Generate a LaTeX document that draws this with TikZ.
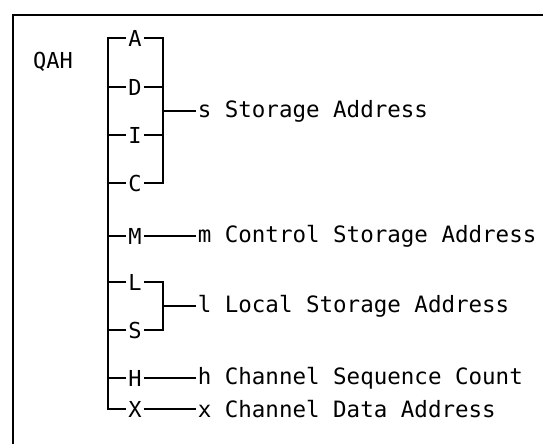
\documentclass[tikz,border=0pt]{standalone}
\usepackage{fontspec}
\setmonofont{DejaVu Sans Mono}
\begin{document}
\begin{tikzpicture}[x=1pt,y=-1pt,line width=1.5pt,
		reg/.style={inner sep=1.5pt,font=\ttfamily\fontsize{22}{26}\selectfont},
		lbl/.style={anchor=west,inner sep=1pt,font=\ttfamily\fontsize{22.5}{26}\selectfont}]
		\useasboundingbox (0,0) rectangle (543,444);
		\draw[line width=2.5pt] (543,15) -- (13,15) -- (13,444);

		\node[reg] (qah) at (53,62) {QAH};

		\node[reg] (a) at (135,38) {A};
		\node[reg] (d) at (135,87) {D};
		\node[reg] (i) at (135,135) {I};
		\node[reg] (c) at (135,183) {C};
		\node[reg] (m) at (135,236) {M};
		\node[reg] (l) at (135,282) {L};
		\node[reg] (s) at (135,330) {S};
		\node[reg] (h) at (135,378) {H};
		\node[reg] (x) at (135,409) {X};

		\node[lbl] (sto) at (196,111) {s Storage Address};
		\node[lbl] (ctl) at (196,236) {m Control Storage Address};
		\node[lbl] (loc) at (196,306) {l Local Storage Address};
		\node[lbl] (seq) at (196,378) {h Channel Sequence Count};
		\node[lbl] (dat) at (196,409) {x Channel Data Address};

		% bus on the left
		\coordinate (ba) at (108,38);
		\coordinate (bx) at (108,409);
		\draw (a) -- (ba) -- (bx) -- (x);
		\draw (d) -- (d -| ba);
		\draw (i) -- (i -| ba);
		\draw (c) -- (c -| ba);
		\draw (m) -- (m -| ba);
		\draw (l) -- (l -| ba);
		\draw (s) -- (s -| ba);
		\draw (h) -- (h -| ba);

		% storage address bracket
		\coordinate (ra) at (163,38);
		\coordinate (rc) at (163,183);
		\draw (a) -- (ra) -- (rc) -- (c);
		\draw (d) -- (d -| ra);
		\draw (i) -- (i -| ra);
		\draw (sto -| ra) -- (sto);

		% local storage bracket
		\coordinate (rl) at (163,282);
		\coordinate (rs) at (163,330);
		\draw (l) -- (rl) -- (rs) -- (s);
		\draw (loc -| rl) -- (loc);

		\draw (m) -- (ctl);
		\draw (h) -- (seq);
		\draw (x) -- (dat);
	\end{tikzpicture}
\end{document}
